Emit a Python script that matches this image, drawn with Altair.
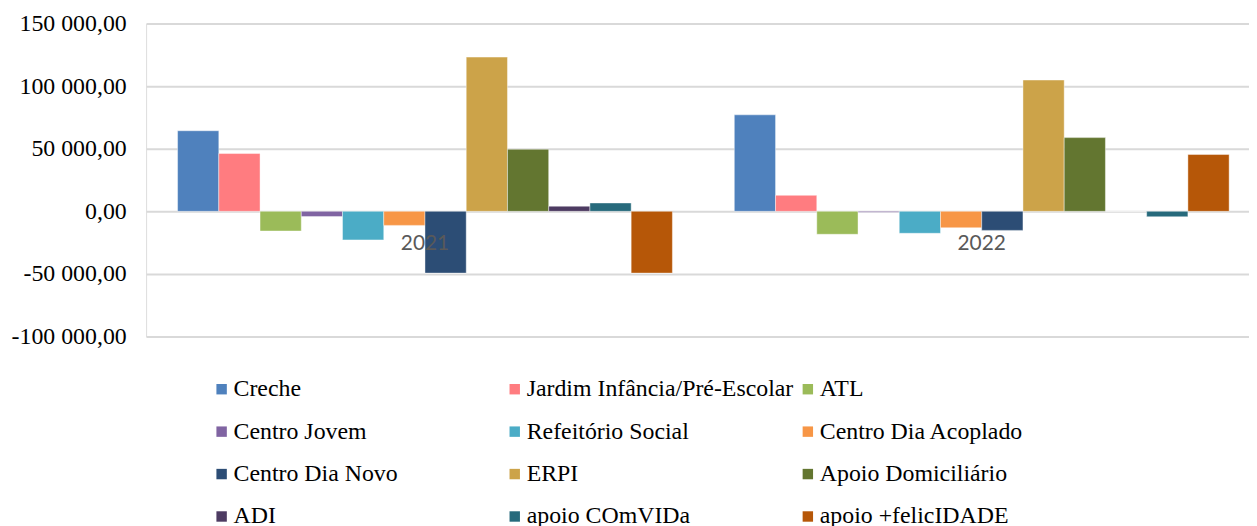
import altair as alt
import pandas as pd

years = ["2021", "2022"]
series = [
    "Creche",
    "Jardim Infância/Pré-Escolar",
    "ATL",
    "Centro Jovem",
    "Refeitório Social",
    "Centro Dia Acoplado",
    "Centro Dia Novo",
    "ERPI",
    "Apoio Domiciliário",
    "ADI",
    "apoio COmVIDa",
    "apoio +felicIDADE",
]
values_2021 = [64400, 46200, -15700, -4200, -22800, -11200, -49300, 123200, 49600, 4100, 6700, -49300]
values_2022 = [77100, 12800, -18300, -700, -17500, -13100, -15200, 104900, 58900, 0, -4300, 45400]
y_ticks = [-100000, -50000, 0, 50000, 100000, 150000]
colors = [
    "#4F81BD", "#FF7C80", "#9BBB59", "#8064A2", "#4BACC6", "#F79646",
    "#2C4D75", "#CCA349", "#637630", "#4D3B62", "#276A7C", "#B65708",
]

rows = []
for s, v1, v2 in zip(series, values_2021, values_2022):
    rows.append({"Ano": years[0], "Serie": s, "Valor": v1})
    rows.append({"Ano": years[1], "Serie": s, "Valor": v2})
df = pd.DataFrame(rows)
df_years = pd.DataFrame({"Ano": years})

serif = "'Liberation Serif', 'Times New Roman', serif"

x_scale = alt.Scale(type="band", domain=years, paddingInner=0.1112, paddingOuter=0.0461, align=0.613)
y_scale = alt.Scale(domain=[-100000, 150000], nice=False, zero=False)

label_expr = (
    "(datum.value < 0 ? '-' : '') + "
    "replace(replace(format(abs(datum.value), ',.2f'), ',', ' '), '.', ',')"
)

bars = alt.Chart(df).mark_bar(stroke="white", strokeWidth=0.7, strokeOpacity=0.6).encode(
    x=alt.X("Ano:N", scale=x_scale, axis=None),
    xOffset=alt.XOffset("Serie:N", sort=series, scale=alt.Scale(paddingInner=0, paddingOuter=0)),
    y=alt.Y(
        "Valor:Q",
        scale=y_scale,
        title=None,
        axis=alt.Axis(
            values=y_ticks,
            labelExpr=label_expr,
            domain=False,
            ticks=False,
            labelPadding=20,
            labelFont=serif,
            labelFontSize=24,
            labelColor="#000000",
            grid=True,
            gridColor="#D9D9D9",
            gridWidth=2,
        ),
    ),
    color=alt.Color(
        "Serie:N",
        sort=series,
        scale=alt.Scale(domain=series, range=colors),
        title=None,
        legend=alt.Legend(
            orient="none",
            direction="horizontal",
            legendX=64,
            legendY=356,
            columns=3,
            gridAlign="all",
            symbolType="square",
            symbolSize=110,
            symbolStrokeWidth=0,
            labelFont=serif,
            labelFontSize=24,
            labelColor="#000000",
            labelLimit=600,
            labelOffset=0,
            columnPadding=2,
            rowPadding=18.7,
        ),
    ),
)

year_text = alt.Chart(df_years).mark_text(
    font="Lato", fontSize=21, color="#595959", baseline="alphabetic", dy=39
).encode(
    x=alt.X("Ano:N", scale=x_scale, axis=None),
    y=alt.datum(0),
    text="Ano:N",
)

chart = alt.layer(bars, year_text).properties(
    width=1110,
    height=315,
    autosize=alt.AutoSizeParams(type="none"),
    padding={"left": 139, "top": 14, "right": 0, "bottom": 189},
).configure_view(stroke=None).configure(background="white")

chart.save("out.html", embed_options={"renderer": "svg", "actions": False})
